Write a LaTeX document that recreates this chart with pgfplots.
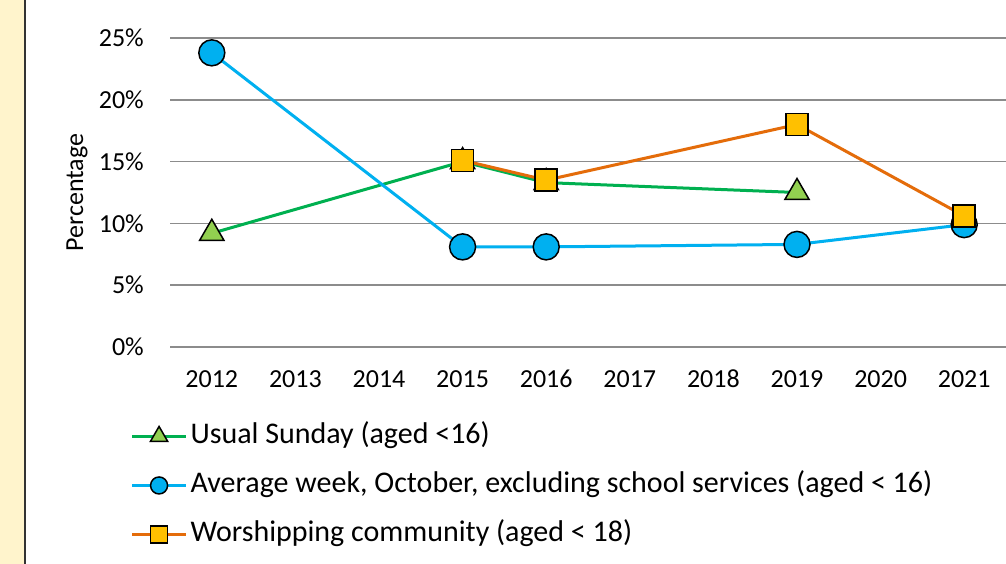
\documentclass[border=0pt]{standalone}
\usepackage{pgfplots}
\pgfplotsset{compat=1.18}
\usepackage{fontspec}
\setmainfont{Carlito}
\definecolor{cblue}{HTML}{00B0F0}
\definecolor{cgreen}{HTML}{00B050}
\definecolor{cgreenfill}{HTML}{92D050}
\definecolor{corange}{HTML}{E46C0A}
\definecolor{cgold}{HTML}{FFC000}
\definecolor{strip}{HTML}{FFF4CC}
\definecolor{gridc}{HTML}{8C8C8C}
\begin{document}
\begin{tikzpicture}[x=1pt,y=1pt]
\path[use as bounding box] (0,0) rectangle (1006,564);
\clip (0,0) rectangle (1006,564);
\fill[white] (0,0) rectangle (1006,564);
\fill[strip] (0,0) rectangle (24,564);
\draw[line width=2pt, black!80] (25,0) -- (25,564);
\begin{axis}[
  at={(170pt,217pt)}, anchor=south west,
  scale only axis, width=836pt, height=309pt,
  xmin=-0.5, xmax=9.5, ymin=0, ymax=25,
  clip=false,
  axis line style={draw=none},
  major tick length=0pt,
  tick style={draw=none},
  ymajorgrids,
  major grid style={gridc, line width=1.6pt},
  xtick={0,...,9},
  xticklabels={2012,2013,2014,2015,2016,2017,2018,2019,2020,2021},
  ytick={0,5,10,15,20,25},
  yticklabels={0\%,5\%,10\%,15\%,20\%,25\%},
  xticklabel style={font=\fontsize{26}{28}\selectfont, anchor=base, inner sep=0pt, yshift=-41pt},
  yticklabel style={font=\fontsize{26}{28}\selectfont, anchor=east, inner sep=0pt, xshift=-26pt},
  ylabel={Percentage},
  every axis y label/.style={at={(rel axis cs:0,0.5)}, rotate=90, anchor=center, yshift=93pt, font=\fontsize{26}{28}\selectfont},
  legend style={
    at={(rel axis cs:-0.051,-0.229)}, anchor=north west,
    draw=none, fill=none,
    font=\fontsize{30}{34}\selectfont,
    row sep=0pt,
    nodes={inner sep=0pt, text height=24pt, text depth=25pt},
    /tikz/every odd column/.append style={column sep=3pt},
  },
  legend cell align=left,
  every axis plot/.append style={line width=3pt},
]
\addplot[cgreen, mark=triangle*, mark size=14pt, mark options={fill=cgreenfill, draw=black, line width=1.5pt},
  legend image code/.code={\draw[mark repeat=2,mark phase=2,mark size=10pt] plot coordinates {(0pt,8pt) (27pt,8pt) (54pt,8pt)};}]
  coordinates {(0,9.2) (3,15.0) (4,13.3) (7,12.5)};
\addlegendentry{Usual Sunday (aged <16)}
\addplot[cblue, mark=*, mark size=13pt, mark options={fill=cblue, draw=black, line width=1.5pt},
  legend image code/.code={\draw[mark repeat=2,mark phase=2,mark size=8.5pt] plot coordinates {(0pt,8pt) (27pt,8pt) (54pt,8pt)};}]
  coordinates {(0,23.8) (3,8.1) (4,8.1) (7,8.3) (9,9.9)};
\addlegendentry{Average week, October, excluding school services (aged < 16)}
\addplot[corange, mark=square*, mark size=11pt, mark options={fill=cgold, draw=black, line width=1.5pt},
  legend image code/.code={\draw[mark repeat=2,mark phase=2,mark size=8.5pt] plot coordinates {(0pt,8pt) (27pt,8pt) (54pt,8pt)};}]
  coordinates {(3,15.1) (4,13.5) (7,18.0) (9,10.6)};
\addlegendentry{Worshipping community (aged < 18)}
\end{axis}
\end{tikzpicture}
\end{document}
